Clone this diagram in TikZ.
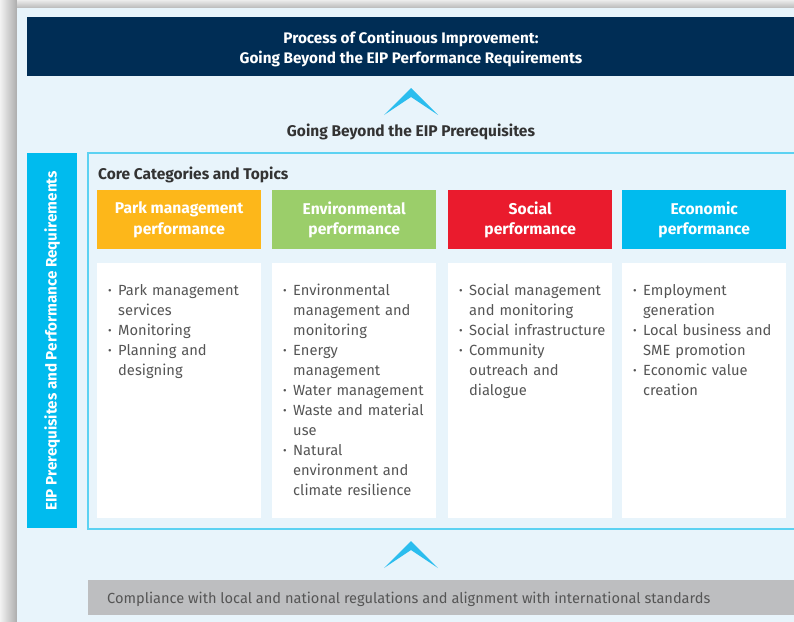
\documentclass[tikz,border=0pt]{standalone}
\usepackage{fontspec}
\setmainfont{Fira Sans}
\definecolor{panel}{HTML}{E8F4FB}
\definecolor{navy}{HTML}{002D55}
\definecolor{corange}{HTML}{FDB71A}
\definecolor{cgreen}{HTML}{9BCE6A}
\definecolor{cred}{HTML}{EA1B2D}
\definecolor{ccyan}{HTML}{00BBEE}
\definecolor{frameblue}{HTML}{5CD2F2}
\definecolor{grayband}{HTML}{BDBEC0}
\definecolor{chev}{HTML}{2BBDEE}
\definecolor{bodytext}{HTML}{555555}
\definecolor{darktext}{HTML}{333333}
\newcommand{\bul}{\par\hangindent=10pt\hangafter=1\noindent\makebox[10pt][l]{\fontsize{11}{11}\selectfont\raisebox{0.8pt}{\textbullet}}}
\tikzset{
  hdr/.style={fill=#1, draw=none, minimum width=164pt, minimum height=59pt, anchor=north west,
    text=white, font=\fontsize{15.6}{20.5}\selectfont\bfseries, align=center, inner sep=0pt},
  card/.style={fill=white, draw=none, minimum width=164pt, minimum height=255pt, anchor=north west, inner sep=0pt},
  bullets/.style={anchor=north west, inner sep=0pt, text width=160pt, align=left,
    text=bodytext, font=\fontsize{14.7}{20}\selectfont},
  chevron/.style={fill=chev, draw=none}
}
\begin{document}
\begin{tikzpicture}[x=1pt,y=-1pt]
\useasboundingbox (0,0) rectangle (794,621);
\clip (0,0) rectangle (794,621);
% shadow
\fill[gray!30] (0,0) rectangle (794,621);
\shade[left color=gray!10, right color=gray!65] (0,0) rectangle (17,621);
\shade[top color=gray!15, bottom color=gray!55] (17,0) rectangle (794,8);
% panel
\fill[panel] (17,8) rectangle (800,630);
% title banner
\node[fill=navy, minimum width=780pt, minimum height=59pt, anchor=north west, inner sep=0pt] (banner) at (27,17) {};
\node[text=white, font=\fontsize{15.3}{20}\selectfont\bfseries, align=center] (title) at (411,49) {Process of Continuous Improvement:\\Going Beyond the EIP Performance Requirements};
% top chevron
\fill[chevron] (384,115) -- (411,88) -- (438,115) -- (411,97) -- cycle;
\node[text=darktext, font=\fontsize{15.5}{17}\selectfont\bfseries] (beyond) at (411,131.5) {Going Beyond the EIP Prerequisites};
% left bar
\node[fill=ccyan, minimum width=50pt, minimum height=375pt, anchor=north west, inner sep=0pt] (leftbar) at (27,153) {};
\node[rotate=90, text=white, font=\fontsize{15.2}{17}\selectfont\bfseries] (leftlabel) at (leftbar.center) {EIP Prerequisites and Performance Requirements};
% core frame
\draw[frameblue, line width=1.3pt] (88,153) rectangle (797,529);
\node[anchor=west, text=darktext, font=\fontsize{15.5}{17}\selectfont\bfseries, inner sep=0pt] (coretitle) at (98,174.5) {Core Categories and Topics};
% headers
\node[hdr=corange] (h1) at (97,190) {Park management\\performance};
\node[hdr=cgreen] (h2) at (272,190) {Environmental\\performance};
\node[hdr=cred] (h3) at (448,190) {Social\\performance};
\node[hdr=ccyan] (h4) at (622,190) {Economic\\performance};
% cards
\node[card] (c1) at (97,263) {};
\node[card] (c2) at (272,263) {};
\node[card] (c3) at (448,263) {};
\node[card] (c4) at (622,263) {};
\node[bullets] (t1) at ([xshift=11pt,yshift=-12pt]c1.north west) {%
\bul Park management\newline services
\bul Monitoring
\bul Planning and\newline designing\par};
\node[bullets] (t2) at ([xshift=11pt,yshift=-12pt]c2.north west) {%
\bul Environmental\newline management and\newline monitoring
\bul Energy\newline management
\bul Water management
\bul Waste and material\newline use
\bul Natural\newline environment and\newline climate resilience\par};
\node[bullets] (t3) at ([xshift=11pt,yshift=-12pt]c3.north west) {%
\bul Social management\newline and monitoring
\bul Social infrastructure
\bul Community\newline outreach and\newline dialogue\par};
\node[bullets] (t4) at ([xshift=11pt,yshift=-12pt]c4.north west) {%
\bul Employment\newline generation
\bul Local business and\newline SME promotion
\bul Economic value\newline creation\par};
% bottom chevron
\fill[chevron] (384,568) -- (411,541) -- (438,568) -- (411,550) -- cycle;
% bottom band
\node[fill=grayband, minimum width=720pt, minimum height=35pt, anchor=north west, inner sep=0pt] (band) at (88,580) {};
\node[anchor=west, text=bodytext, font=\fontsize{14.6}{17}\selectfont, inner sep=0pt] (bandtext) at (107,599) {Compliance with local and national regulations and alignment with international standards};
\end{tikzpicture}
\end{document}
